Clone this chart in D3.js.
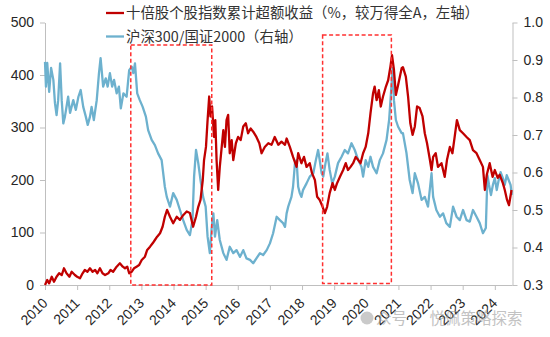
<!DOCTYPE html>
<html>
<head>
<meta charset="utf-8">
<script src="https://cdn.jsdelivr.net/npm/d3@7"></script>
<style>
html,body{margin:0;padding:0;background:#fff;}
svg{display:block;font-family:"Liberation Sans",Arial,"Noto Sans CJK SC",sans-serif;}
</style>
</head>
<body>
<svg id="chart" width="550" height="337"></svg>
<script>
// ---------- data ----------
const yearTicks = [2010,2011,2012,2013,2014,2015,2016,2017,2018,2019,2020,2021,2022,2023,2024];
const leftTicks = [0,100,200,300,400,500];
const rightTicks = [0.3,0.4,0.5,0.6,0.7,0.8,0.9,1.0];
const legendLabels = ["十倍股个股指数累计超额收益（%，较万得全A，左轴）","沪深300/国证2000（右轴）"];

// 十倍股个股指数累计超额收益 (left axis) : [decimal year, value]
const excessReturn = [
[2010.00,0],[2010.07,9.5],[2010.13,3.2],[2010.21,15.8],[2010.28,6.3],[2010.36,15.8],[2010.44,22.3],[2010.52,19],
[2010.59,31.8],[2010.67,22.3],[2010.76,15.8],[2010.83,25.3],[2010.93,19],[2011.00,15.8],[2011.09,12.8],[2011.17,22.3],
[2011.24,28.6],[2011.32,25.3],[2011.40,31.8],[2011.48,25.3],[2011.56,28.6],[2011.63,22.3],[2011.71,31.8],[2011.79,22.3],
[2011.87,19],[2011.97,22.3],[2012.04,28.6],[2012.12,25.3],[2012.23,34.9],[2012.33,41.3],[2012.42,34.9],[2012.49,31.8],
[2012.56,34.9],[2012.62,22.3],[2012.70,25.3],[2012.77,31.8],[2012.85,34.9],[2012.93,38.1],[2013.01,47.6],[2013.11,53.9],
[2013.18,66.7],[2013.27,73],[2013.35,79.4],[2013.42,85.7],[2013.49,92],[2013.58,98.5],[2013.66,111],[2013.73,130],
[2013.80,143],[2013.89,130],[2013.99,117.5],[2014.10,130],[2014.20,124],[2014.30,133],[2014.41,140],[2014.51,137],
[2014.61,111],[2014.70,130],[2014.77,149],[2014.84,162],[2014.91,200],[2014.95,238],[2015.01,263],[2015.06,314],
[2015.11,359],[2015.15,321],[2015.20,340],[2015.26,282],[2015.30,314],[2015.34,238],[2015.39,181],[2015.44,225],
[2015.50,263],[2015.55,295],[2015.60,263],[2015.65,314],[2015.70,324],[2015.75,251],[2015.81,276],[2015.86,238],
[2015.94,270],[2016.01,282],[2016.09,276],[2016.17,302],[2016.25,308],[2016.32,289],[2016.40,298],[2016.48,292],
[2016.58,282],[2016.67,270],[2016.74,251],[2016.84,263],[2016.95,270],[2017.05,267],[2017.15,282],[2017.26,267],
[2017.36,273],[2017.47,267],[2017.52,279],[2017.62,263],[2017.72,244],[2017.83,225],[2017.88,251],[2017.98,232],
[2018.06,244],[2018.14,225],[2018.24,232],[2018.31,213],[2018.40,200],[2018.47,168],[2018.55,162],[2018.64,149],
[2018.71,137],[2018.78,149],[2018.86,175],[2018.95,194],[2019.02,181],[2019.09,194],[2019.18,206],[2019.28,219],
[2019.36,232],[2019.43,219],[2019.51,225],[2019.59,232],[2019.67,244],[2019.75,238],[2019.82,232],[2019.90,251],
[2019.98,263],[2020.06,289],[2020.13,327],[2020.21,365],[2020.26,378],[2020.32,352],[2020.39,371],[2020.45,340],
[2020.52,359],[2020.61,378],[2020.68,390],[2020.75,416],[2020.80,438],[2020.86,410],[2020.92,362],[2020.99,381],
[2021.10,413],[2021.14,415],[2021.23,397],[2021.30,359],[2021.37,308],[2021.44,286],[2021.51,302],[2021.58,340],
[2021.66,337],[2021.75,321],[2021.82,289],[2021.89,270],[2021.98,238],[2022.03,219],[2022.08,244],[2022.16,251],
[2022.23,225],[2022.34,232],[2022.44,206],[2022.51,238],[2022.60,263],[2022.68,251],[2022.75,282],[2022.82,314],
[2022.91,295],[2023.01,289],[2023.12,282],[2023.22,276],[2023.32,257],[2023.43,251],[2023.53,238],[2023.63,225],
[2023.69,181],[2023.75,210],[2023.84,232],[2023.93,206],[2024.00,219],[2024.09,204],[2024.15,210],[2024.25,194],
[2024.31,181],[2024.38,162],[2024.44,152],[2024.52,181]
];

// 沪深300/国证2000 (right axis) : [decimal year, ratio]
const ratio = [
[2010.00,0.895],[2010.03,0.829],[2010.07,0.892],[2010.13,0.815],[2010.19,0.879],[2010.26,0.847],[2010.31,0.785],[2010.36,0.753],
[2010.41,0.793],[2010.47,0.891],[2010.52,0.793],[2010.57,0.731],[2010.62,0.749],[2010.72,0.802],[2010.78,0.759],[2010.88,0.793],
[2010.96,0.767],[2011.04,0.802],[2011.11,0.820],[2011.19,0.775],[2011.27,0.749],[2011.33,0.727],[2011.40,0.749],[2011.45,0.775],
[2011.52,0.740],[2011.61,0.793],[2011.68,0.865],[2011.73,0.905],[2011.81,0.829],[2011.89,0.851],[2011.95,0.829],[2012.02,0.865],
[2012.09,0.829],[2012.15,0.847],[2012.23,0.811],[2012.30,0.829],[2012.36,0.771],[2012.44,0.811],[2012.54,0.802],[2012.62,0.873],
[2012.70,0.882],[2012.75,0.865],[2012.80,0.891],[2012.87,0.811],[2012.95,0.793],[2013.04,0.775],[2013.14,0.749],[2013.21,0.713],
[2013.32,0.687],[2013.42,0.673],[2013.52,0.651],[2013.63,0.633],[2013.73,0.562],[2013.79,0.535],[2013.89,0.509],[2013.99,0.545],
[2014.10,0.527],[2014.20,0.500],[2014.30,0.473],[2014.41,0.447],[2014.51,0.433],[2014.59,0.473],[2014.64,0.589],[2014.70,0.660],
[2014.77,0.625],[2014.84,0.580],[2014.92,0.535],[2015.00,0.509],[2015.06,0.429],[2015.13,0.385],[2015.19,0.455],[2015.24,0.491],
[2015.29,0.429],[2015.36,0.473],[2015.44,0.420],[2015.55,0.385],[2015.65,0.367],[2015.75,0.402],[2015.86,0.385],[2015.96,0.393],
[2016.07,0.375],[2016.17,0.393],[2016.27,0.371],[2016.38,0.367],[2016.48,0.358],[2016.58,0.371],[2016.69,0.385],[2016.79,0.380],
[2016.90,0.393],[2017.00,0.411],[2017.10,0.438],[2017.21,0.482],[2017.31,0.473],[2017.41,0.465],[2017.47,0.455],[2017.52,0.491],
[2017.57,0.509],[2017.67,0.535],[2017.72,0.562],[2017.78,0.625],[2017.83,0.633],[2017.88,0.562],[2017.93,0.545],[2017.98,0.535],
[2018.03,0.553],[2018.14,0.571],[2018.24,0.589],[2018.35,0.598],[2018.43,0.633],[2018.50,0.660],[2018.55,0.633],[2018.61,0.598],
[2018.66,0.589],[2018.73,0.625],[2018.79,0.651],[2018.86,0.607],[2018.94,0.571],[2019.02,0.589],[2019.12,0.625],[2019.23,0.642],
[2019.33,0.660],[2019.43,0.651],[2019.54,0.678],[2019.64,0.660],[2019.75,0.633],[2019.85,0.615],[2019.90,0.589],[2019.98,0.633],
[2020.06,0.615],[2020.13,0.642],[2020.21,0.615],[2020.32,0.598],[2020.42,0.633],[2020.52,0.651],[2020.63,0.687],[2020.71,0.740],
[2020.76,0.802],[2020.82,0.878],[2020.86,0.793],[2020.92,0.740],[2020.99,0.722],[2021.10,0.705],[2021.14,0.705],[2021.25,0.652],
[2021.35,0.580],[2021.44,0.545],[2021.51,0.598],[2021.61,0.571],[2021.72,0.527],[2021.82,0.535],[2021.92,0.509],[2022.03,0.598],
[2022.08,0.535],[2022.18,0.500],[2022.29,0.482],[2022.39,0.491],[2022.49,0.465],[2022.60,0.455],[2022.70,0.509],[2022.81,0.482],
[2022.91,0.473],[2023.01,0.500],[2023.12,0.473],[2023.22,0.469],[2023.32,0.500],[2023.43,0.482],[2023.53,0.465],[2023.63,0.438],
[2023.72,0.452],[2023.77,0.593],[2023.82,0.567],[2023.88,0.540],[2023.94,0.567],[2024.00,0.585],[2024.06,0.553],[2024.12,0.580],
[2024.18,0.601],[2024.25,0.585],[2024.31,0.567],[2024.37,0.593],[2024.43,0.580],[2024.49,0.567],[2024.53,0.540]
];

// highlighted periods (dashed boxes): [start year, end year, low value, high value] on left axis
const boxStart = [2012.67, 2018.64];
const boxEnd   = [2015.19, 2020.78];
const boxLow   = [0, 3];
const boxHigh  = [457, 476];

const watermark = "众号 · 悦佩策略探索";

// ---------- layout ----------
const svg = d3.select("#chart");
const L = 45, R = 512.5, T = 22.5, B = 285;
const red = "#C00000", blue = "#6DB1CE", axisCol = "#BFBFBF", txt = "#262626";

const x = d3.scaleLinear().domain([2010, 2024.55]).range([L, R]);
const yL = d3.scaleLinear().domain([0, 500]).range([B, T]);
const yR = d3.scaleLinear().domain([0.3, 1.0]).range([B, T]);

// axes
function styleAxis(g){
  g.select(".domain").attr("stroke", axisCol).attr("stroke-width", 1);
  g.selectAll(".tick line").attr("stroke", axisCol);
  g.selectAll("text").attr("fill", txt).style("font-size","14px").style("font-family",'"Liberation Sans",Arial,sans-serif');
}
svg.append("g").attr("transform",`translate(${L},0)`)
  .call(d3.axisLeft(yL).tickValues(leftTicks).tickSize(5).tickPadding(6).tickSizeOuter(0))
  .call(styleAxis);
svg.append("g").attr("transform",`translate(${R},0)`)
  .call(d3.axisRight(yR).tickValues(rightTicks).tickFormat(d3.format(".1f")).tickSize(5).tickPadding(6).tickSizeOuter(0))
  .call(styleAxis);
const gx = svg.append("g").attr("transform",`translate(0,${B})`)
  .call(d3.axisBottom(x).tickValues(yearTicks).tickFormat(d3.format("d")).tickSize(5).tickSizeOuter(0))
  .call(styleAxis);
gx.select(".domain").attr("d", `M${L},0.5H${R}`);
gx.selectAll(".tick text")
  .attr("text-anchor","end")
  .attr("dy","0")
  .attr("transform","translate(3,19) rotate(-45)")
  .attr("y",0).attr("x",0);

// lines
const lineL = d3.line().x(d=>x(d[0])).y(d=>yL(d[1]));
const lineR = d3.line().x(d=>x(d[0])).y(d=>yR(d[1]));
svg.append("path").datum(ratio).attr("d", lineR).attr("fill","none")
  .attr("stroke", blue).attr("stroke-width", 2.3).attr("stroke-linejoin","round");
svg.append("path").datum(excessReturn).attr("d", lineL).attr("fill","none")
  .attr("stroke", red).attr("stroke-width", 2.3).attr("stroke-linejoin","round");

// dashed boxes
boxStart.forEach((s,i)=>{
  svg.append("rect")
    .attr("x", x(s)).attr("y", yL(boxHigh[i]))
    .attr("width", x(boxEnd[i]) - x(s)).attr("height", yL(boxLow[i]) - yL(boxHigh[i]))
    .attr("fill","none").attr("stroke","#FF3030").attr("stroke-width",1.5)
    .attr("stroke-dasharray","4,2.5");
});

// legend
const lg = svg.append("g");
const legendY = [13, 36.5];
[red, blue].forEach((c,i)=>{
  lg.append("line").attr("x1",106).attr("x2",124).attr("y1",legendY[i]).attr("y2",legendY[i])
    .attr("stroke",c).attr("stroke-width",2.3);
  lg.append("text").attr("x",126).attr("y",legendY[i]).attr("dy","0.36em")
    .attr("fill","#333").style("font-size","14.4px")
    .style("font-family",'"Noto Sans CJK SC","Liberation Sans",sans-serif')
    .text(legendLabels[i]);
});

// watermark
const wm = svg.append("g").attr("opacity",0.6);
wm.append("circle").attr("cx",367).attr("cy",318).attr("r",6.5).attr("fill","#A8A8A8");
wm.append("text").attr("x",376).attr("y",318).attr("dy","0.36em")
  .attr("fill","#9A9A9A").style("font-size","15.5px")
  .style("font-family",'"Noto Sans CJK SC",sans-serif').text(watermark);
</script>
</body>
</html>
